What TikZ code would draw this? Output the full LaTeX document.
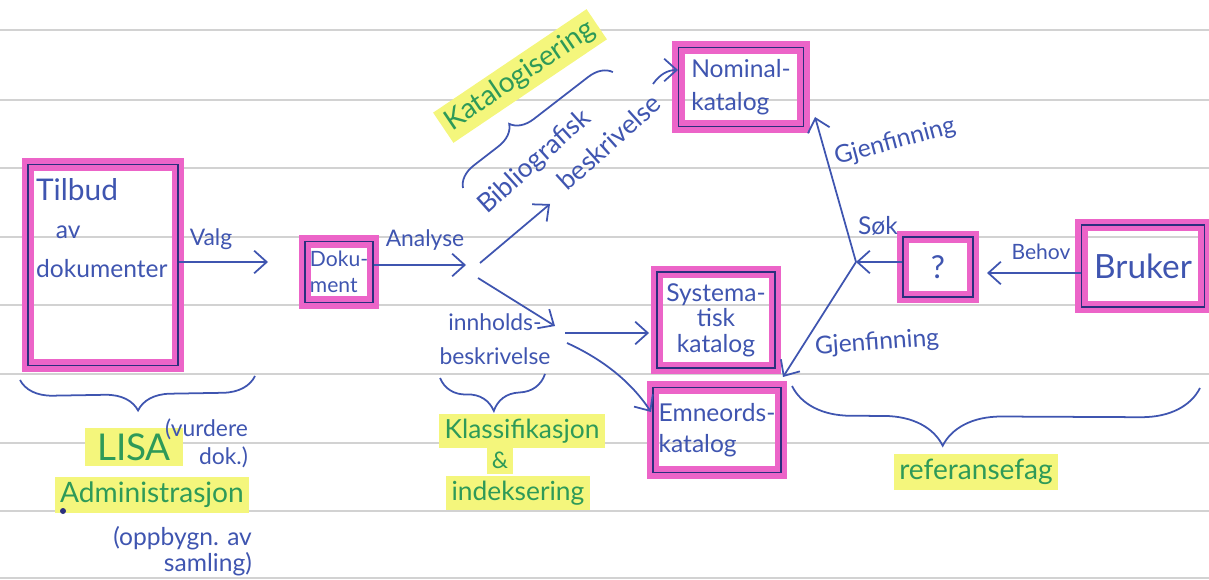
\documentclass[tikz,border=0pt]{standalone}
\usepackage{fontspec}
\setmainfont{Lato}
\usetikzlibrary{arrows.meta,decorations.pathreplacing}
\definecolor{penblue}{HTML}{3F55B0}
\definecolor{boxnavy}{HTML}{2B2F7E}
\definecolor{hlpink}{HTML}{EC64C8}
\definecolor{hlyellow}{HTML}{F4F67C}
\definecolor{hlgreen}{HTML}{2E9A58}
\definecolor{ruling}{HTML}{D2D2D2}
\newcommand{\sz}[2]{\fontsize{#1}{#2}\selectfont}
\tikzset{
  box/.style={draw=boxnavy, line width=1.1pt, preaction={draw=hlpink, line width=7pt},
    text=penblue, align=left, inner sep=3pt},
  pen/.style={text=penblue, inner sep=1pt},
  hl/.style={fill=hlyellow, text=hlgreen, inner sep=3pt},
  arr/.style={draw=penblue, line width=1pt, -{Straight Barb[length=2.5mm,width=4.5mm]}},
  brc/.style={draw=penblue, line width=1pt, decorate, decoration={brace, amplitude=#1}},
}
\begin{document}
\begin{tikzpicture}[x=0.02cm, y=-0.02cm]
\useasboundingbox (0,0) rectangle (1209,580);
% ruled paper
\foreach \ry in {30,100,168,237,305,374,443,511,578}
  \draw[ruling, line width=0.6pt] (0,\ry) -- (1209,\ry);

% boxes
\node[box, minimum width=3cm, minimum height=4.02cm] (tilbud) at (103,265) {};
\node[pen, anchor=north west, align=left, font=\sz{14}{22}] (tilbudtxt) at (34,176) {{\sz{17}{22}Tilbud}\\\hspace*{0.8em}av\\dokumenter};
\node[box, font=\sz{12}{15}, minimum width=1.36cm, minimum height=1.22cm] (dok) at (339,272) {Doku-\\ment};
\node[box, font=\sz{14}{19}, minimum width=2.5cm, minimum height=1.58cm] (nominal) at (741,87) {Nominal-\\katalog};
\node[box, font=\sz{14}{14.5}, align=center, minimum width=2.36cm, minimum height=1.92cm] (systematisk) at (716,320) {Systema-\\tisk\\katalog};
\node[box, font=\sz{14}{18}, minimum width=2.4cm, minimum height=1.7cm] (emneords) at (717,430) {Emneords-\\katalog};
\node[box, font=\sz{18}{20}, minimum width=1.4cm, minimum height=1.2cm] (qbox) at (938,267) {?};
\node[box, font=\sz{19}{21}, minimum width=2.46cm, minimum height=1.64cm] (bruker) at (1143,266) {Bruker};

% Valg and Analyse
\coordinate (valgend) at (268,262);
\draw[arr] (tilbud.east |- valgend) -- (valgend);
\node[pen, font=\sz{13}{15}] (valg) at (211,239) {Valg};
\coordinate (anaend) at (466,265);
\draw[arr] (dok.east |- anaend) -- (anaend);
\node[pen, font=\sz{13}{15}] (analyse) at (425,240) {Analyse};

% the two branches
\coordinate (bibstart) at (480,263);
\coordinate (bibend) at (550,204);
\draw[arr] (bibstart) -- (bibend);
\coordinate (innstart) at (478,278);
\coordinate (innend) at (555,326);
\draw[arr] (innstart) -- (innend);
\node[pen, rotate=42, font=\sz{15}{17}] (bibl) at (535,162) {Bibliografisk};
\node[pen, rotate=42, font=\sz{15}{17}] (beskr) at (609,142) {beskrivelse};
\coordinate (nomstart) at (653,84);
\coordinate (nomend) at (678,70);
\draw[arr] (nomstart) .. controls (660,74) and (668,70) .. (nomend);
\node[pen, align=center, font=\sz{13}{19}] (innhold) at (495,339) {innholds-\\beskrivelse};
\coordinate (sysstart) at (565,333);
\draw[arr, shorten >=4pt] (sysstart) -- (sysstart -| systematisk.west);
\coordinate (emnstart) at (567,343);
\coordinate (emnend) at (651,412);
\draw[arr] (emnstart) .. controls (600,358) and (630,380) .. (emnend);

% search side
\coordinate (sok) at (856,262);
\draw[arr] (qbox.west |- sok) -- (sok);
\coordinate (gjen1) at (815,117);
\draw[arr] (sok) -- (gjen1);
\coordinate (gjen2) at (783,377);
\draw[arr] (sok) -- (gjen2);
\node[pen, font=\sz{14}{16}] (soklbl) at (878,226) {Søk};
\node[pen, rotate=15, font=\sz{14}{16}] (gjenlbl1) at (895,142) {Gjenfinning};
\node[pen, rotate=4, font=\sz{14}{16}] (gjenlbl2) at (877,343) {Gjenfinning};
\coordinate (behovend) at (987,273);
\draw[arr] (bruker.west |- behovend) -- (behovend);
\node[pen, font=\sz{12}{14}] (behov) at (1041,252) {Behov};

% braces
\draw[brc=0.65cm] (255,376) -- (20,380);
\draw[brc=0.7cm] (545,374) -- (440,378);
\draw[brc=0.45cm, decoration={aspect=0.4}] (463,188) -- (613,72);
\draw[brc=1.18cm, decoration={aspect=0.63}] (1200,388) -- (792,386);

% highlighted notes
\node[hl, rotate=34, font=\sz{16}{18}] (katalog) at (520,76) {Katalogisering};
\node[hl, font=\sz{15}{17}] (klass) at (522,431) {Klassifikasjon};
\node[hl, font=\sz{13}{15}] (amp) at (500,460) {\&};
\node[hl, font=\sz{15}{17}] (indeks) at (518,493) {indeksering};
\node[hl, font=\sz{16}{18}] (referanse) at (976,472) {referansefag};
\node[hl, font=\sz{21}{24}, inner xsep=7pt] (lisa) at (134,447) {LISA};
\node[pen, anchor=east, align=right, font=\sz{13}{16}] (vurdere) at (250,443) {(vurdere\\dok.)};
\node[hl, font=\sz{16}{18}] (admin) at (152,495) {Administrasjon};
\fill[boxnavy] (63,511) circle (0.06cm);
\node[pen, anchor=north east, align=right, font=\sz{14}{15}] (oppbygn) at (254,524) {(oppbygn. av\\samling)};
\end{tikzpicture}
\end{document}
